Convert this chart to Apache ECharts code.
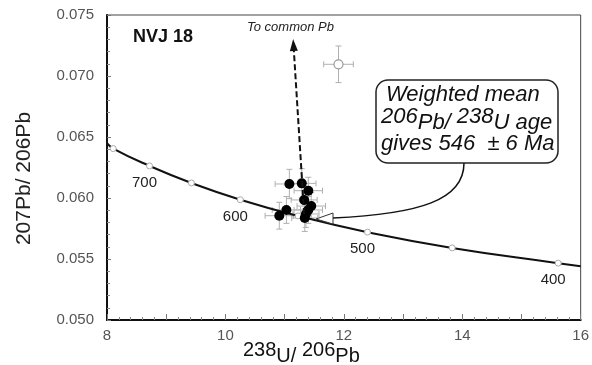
<!DOCTYPE html>
<html>
<head>
<meta charset="utf-8">
<script src="https://cdn.jsdelivr.net/npm/echarts@6/dist/echarts.min.js"></script>
<style>
  html, body { margin: 0; padding: 0; background: #fff; }
  #chart { width: 592px; height: 365px; }
</style>
</head>
<body>
<div id="chart"></div>
<script>
// concordia curve (238U/206Pb, 207Pb/206Pb)
const concX = [8.0, 8.105, 8.718, 9.426, 10.252, 11.228, 12.40, 13.83, 15.62, 16.0];
const concY = [0.0645, 0.06405, 0.06263, 0.06123, 0.05986, 0.05853, 0.05720, 0.05591, 0.05466, 0.0544];

// age ticks on the concordia
const ageMa = [750, 700, 650, 600, 550, 500, 450, 400];
const ageX = [8.105, 8.718, 9.426, 10.252, 11.228, 12.40, 13.83, 15.62];
const ageY = [0.06405, 0.06263, 0.06123, 0.05986, 0.05853, 0.05720, 0.05591, 0.05466];
const labelledAges = [700, 600, 500, 400];

// analyses (filled) with 2-sigma errors
const ptX = [11.08, 11.29, 11.40, 11.33, 11.45, 11.40, 11.36, 11.03, 10.91, 11.34];
const ptY = [0.06115, 0.06120, 0.06060, 0.05984, 0.05934, 0.05902, 0.05869, 0.05902, 0.05855, 0.05836];
const errX = [0.24, 0.24, 0.24, 0.22, 0.24, 0.24, 0.22, 0.24, 0.24, 0.22];
const errY = [0.0012, 0.0012, 0.0011, 0.0011, 0.0011, 0.0011, 0.0011, 0.0011, 0.0011, 0.0011];

// rejected analysis (open)
const openX = [11.91];
const openY = [0.07096];
const openErrX = [0.25];
const openErrY = [0.0015];

// common Pb trajectory
const arrowFrom = [11.33, 0.05869];
const arrowTo = [11.15, 0.07254];

const font = 'Liberation Sans, Arial, sans-serif';

const chart = echarts.init(document.getElementById('chart'));

const pts = ptX.map((x, i) => [x, ptY[i], errX[i], errY[i]]);
const openPts = openX.map((x, i) => [x, openY[i], openErrX[i], openErrY[i]]);

function errorBars(params, api) {
  const x = api.value(0), y = api.value(1), ex = api.value(2), ey = api.value(3);
  const l = api.coord([x - ex, y]);
  const r = api.coord([x + ex, y]);
  const t = api.coord([x, y + ey]);
  const b = api.coord([x, y - ey]);
  const cap = 3;
  const st = { stroke: '#b0b0b0', lineWidth: 1 };
  const line = (x1, y1, x2, y2) => ({ type: 'line', shape: { x1, y1, x2, y2 }, style: st });
  return {
    type: 'group',
    children: [
      line(l[0], l[1], r[0], r[1]),
      line(t[0], t[1], b[0], b[1]),
      line(l[0], l[1] - cap, l[0], l[1] + cap),
      line(r[0], r[1] - cap, r[0], r[1] + cap),
      line(t[0] - cap, t[1], t[0] + cap, t[1]),
      line(b[0] - cap, b[1], b[0] + cap, b[1]),
    ],
  };
}

const option = {
  animation: false,
  grid: {
    left: 107, right: 7, top: 15, bottom: 45,
    show: true, borderColor: '#444', borderWidth: 1,
  },
  xAxis: {
    type: 'value', min: 8, max: 16, interval: 1,
    axisLine: { lineStyle: { color: '#111', width: 2 } },
    axisTick: { inside: true, length: 6, lineStyle: { color: '#777' } },
    minorTick: { show: true, splitNumber: 5, length: 3, lineStyle: { color: '#888' } },
    axisLabel: {
      color: '#555', fontSize: 15, fontFamily: font, margin: 8,
      formatter: (v) => (v % 2 === 0 ? String(v) : ''),
    },
    splitLine: { show: false },
  },
  yAxis: {
    type: 'value', min: 0.05, max: 0.075, interval: 0.005,
    axisLine: { lineStyle: { color: '#111', width: 2 } },
    axisTick: { inside: true, length: 4, lineStyle: { color: '#777' } },
    minorTick: { show: true, splitNumber: 5, length: 3, lineStyle: { color: '#888' } },
    axisLabel: {
      color: '#555', fontSize: 15, fontFamily: font, margin: 13,
      formatter: (v) => v.toFixed(3),
    },
    splitLine: { show: false },
    name: '207Pb/ 206Pb', nameLocation: 'middle', nameGap: 72, nameRotate: 90,
    nameTextStyle: { color: '#222', fontSize: 21, fontFamily: font, padding: [0, 22, 0, 0] },
  },
  series: [
    {
      type: 'custom', renderItem: errorBars, data: pts, z: 1,
      encode: { x: 0, y: 1 }, silent: true,
    },
    {
      type: 'custom', renderItem: errorBars, data: openPts, z: 1,
      encode: { x: 0, y: 1 }, silent: true,
    },
    {
      type: 'line', data: concX.map((x, i) => [x, concY[i]]), smooth: true,
      showSymbol: false, lineStyle: { color: '#111', width: 2 }, z: 2, silent: true,
    },
    {
      type: 'scatter', z: 3, symbol: 'circle', symbolSize: 6,
      itemStyle: { color: '#fff', borderColor: '#aaa', borderWidth: 1, opacity: 1 },
      data: ageMa.map((a, i) => ({
        value: [ageX[i], ageY[i]],
        label: {
          show: labelledAges.includes(a), formatter: String(a), position: 'bottom',
          offset: [-5, 1], color: '#222', fontSize: 15, fontFamily: font,
        },
      })),
    },
    {
      type: 'scatter', z: 4, symbol: 'circle', symbolSize: 10,
      itemStyle: { color: '#000', opacity: 1 },
      data: pts.map((p) => [p[0], p[1]]),
    },
    {
      type: 'scatter', z: 4, symbol: 'circle', symbolSize: 9,
      itemStyle: { color: '#fff', borderColor: '#999', borderWidth: 1.2, opacity: 1 },
      data: openPts.map((p) => [p[0], p[1]]),
      markLine: {
        silent: true, symbol: ['none', 'triangle'], symbolSize: [8, 12],
        lineStyle: { color: '#111', type: [6, 3], width: 2 },
        label: { show: false },
        data: [[{ coord: arrowFrom }, { coord: arrowTo }]],
      },
    },
  ],
  graphic: [
    {
      type: 'text', left: 133, top: 28, z: 10,
      style: { text: 'NVJ 18', font: 'bold 18px ' + font, fill: '#111' },
    },
    {
      type: 'text', left: 247, top: 21, z: 10,
      style: { text: 'To common Pb', font: 'italic 13px ' + font, fill: '#222' },
    },
    {
      type: 'bezierCurve', z: 10,
      shape: { x1: 464, y1: 163, cpx1: 464, cpy1: 200, cpx2: 420, cpy2: 214, x2: 333, y2: 218 },
      style: { stroke: '#111', lineWidth: 1.5, fill: null },
    },
    {
      type: 'polygon', z: 10,
      shape: { points: [[316, 219], [333, 213], [333, 224]] },
      style: { fill: '#fff', stroke: '#333', lineWidth: 1 },
    },
    {
      type: 'rect', z: 10,
      shape: { x: 376, y: 80, width: 182, height: 83, r: 12 },
      style: { fill: '#fff', stroke: '#222', lineWidth: 1.5 },
    },
    {
      type: 'text', left: 386, top: 84, z: 11,
      style: { text: 'Weighted mean', font: 'italic 22px ' + font, fill: '#111' },
    },
    {
      type: 'text', left: 381, top: 106, z: 11,
      style: {
        text: '{n|206}{s|Pb/ }{n|238}{s|U age}',
        fill: '#111',
        rich: {
          n: { font: 'italic 22px ' + font, verticalAlign: 'top', lineHeight: 28, fill: '#111' },
          s: { font: 'italic 22px ' + font, verticalAlign: 'bottom', lineHeight: 28, fill: '#111' },
        },
      },
    },
    {
      type: 'text', left: 381, top: 133, z: 11,
      style: { text: 'gives 546  \u00b1 6 Ma', font: 'italic 22px ' + font, fill: '#111' },
    },
    {
      type: 'text', left: 243, top: 340, z: 10,
      style: {
        text: '{n|238}{s|U/ }{n|206}{s|Pb}',
        fill: '#111',
        rich: {
          n: { font: '20px ' + font, verticalAlign: 'top', lineHeight: 26, fill: '#111' },
          s: { font: '20px ' + font, verticalAlign: 'bottom', lineHeight: 26, fill: '#111' },
        },
      },
    },
  ],
};

chart.setOption(option);
</script>
</body>
</html>
